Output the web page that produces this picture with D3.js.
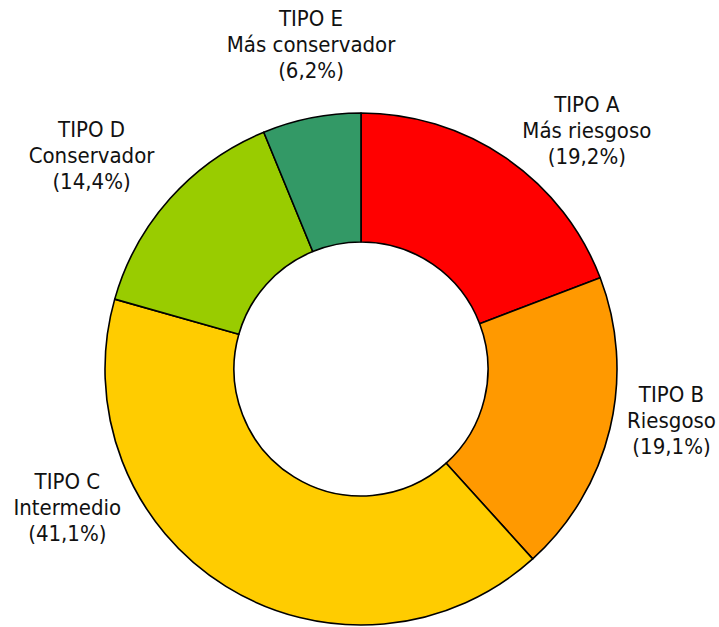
<!DOCTYPE html>
<html>
<head>
<meta charset="utf-8">
<script src="https://cdn.jsdelivr.net/npm/d3@7"></script>
<style>
  html, body { margin: 0; padding: 0; background: #fff; }
  svg text {
    font-family: "DejaVu Sans Condensed", "DejaVu Sans", sans-serif;
    font-stretch: condensed;
    font-size: 22px;
    fill: #111;
  }
</style>
</head>
<body>
<div id="chart"></div>
<script>
// data
const tipos = ['TIPO A', 'TIPO B', 'TIPO C', 'TIPO D', 'TIPO E'];
const perfiles = ['Más riesgoso', 'Riesgoso', 'Intermedio', 'Conservador', 'Más conservador'];
const porcentajes = [19.2, 19.1, 41.1, 14.4, 6.2];
const colores = ['#ff0000', '#ff9900', '#ffcc00', '#99cc00', '#339966'];

const width = 719, height = 627;
const cx = 361, cy = 369;
const outerR = 256, innerR = 127;

// label placement: nudge (degrees) from the slice mid angle and distance from centre
const labelNudge = [9.8, -2.8, 31.7, -4.4, 2.2];
const labelDist = [323, 316, 328, 339, 321];
const lineH = 26;

const svg = d3.select('#chart')
    .append('svg')
    .attr('width', width)
    .attr('height', height);

const g = svg.append('g').attr('transform', `translate(${cx},${cy})`);

const pie = d3.pie().sort(null).value(d => d);
const arcs = pie(porcentajes);

const arc = d3.arc()
    .innerRadius(innerR)
    .outerRadius(outerR);

g.selectAll('path.slice')
    .data(arcs)
    .enter()
    .append('path')
    .attr('class', 'slice')
    .attr('d', arc)
    .style('fill', (d, i) => colores[i])
    .style('stroke', '#000')
    .style('stroke-width', 1.6)
    .style('stroke-linejoin', 'round');

const fmt = v => '(' + d3.format('.1f')(v).replace('.', ',') + '%)';

const labels = g.selectAll('text.lbl')
    .data(arcs)
    .enter()
    .append('text')
    .attr('class', 'lbl')
    .attr('text-anchor', 'middle')
    .attr('transform', (d, i) => {
        let a = (d.startAngle + d.endAngle) / 2 + labelNudge[i] * Math.PI / 180;
        let x = labelDist[i] * Math.sin(a),
            y = -labelDist[i] * Math.cos(a);
        return `translate(${x},${y})`;
    });

labels.each(function (d, i) {
    let t = d3.select(this);
    let lines = [tipos[i], perfiles[i], fmt(porcentajes[i])];
    lines.forEach((s, k) => {
        t.append('tspan')
            .attr('x', 0)
            .attr('y', (k - 1) * lineH)
            .text(s);
    });
});
</script>
</body>
</html>
